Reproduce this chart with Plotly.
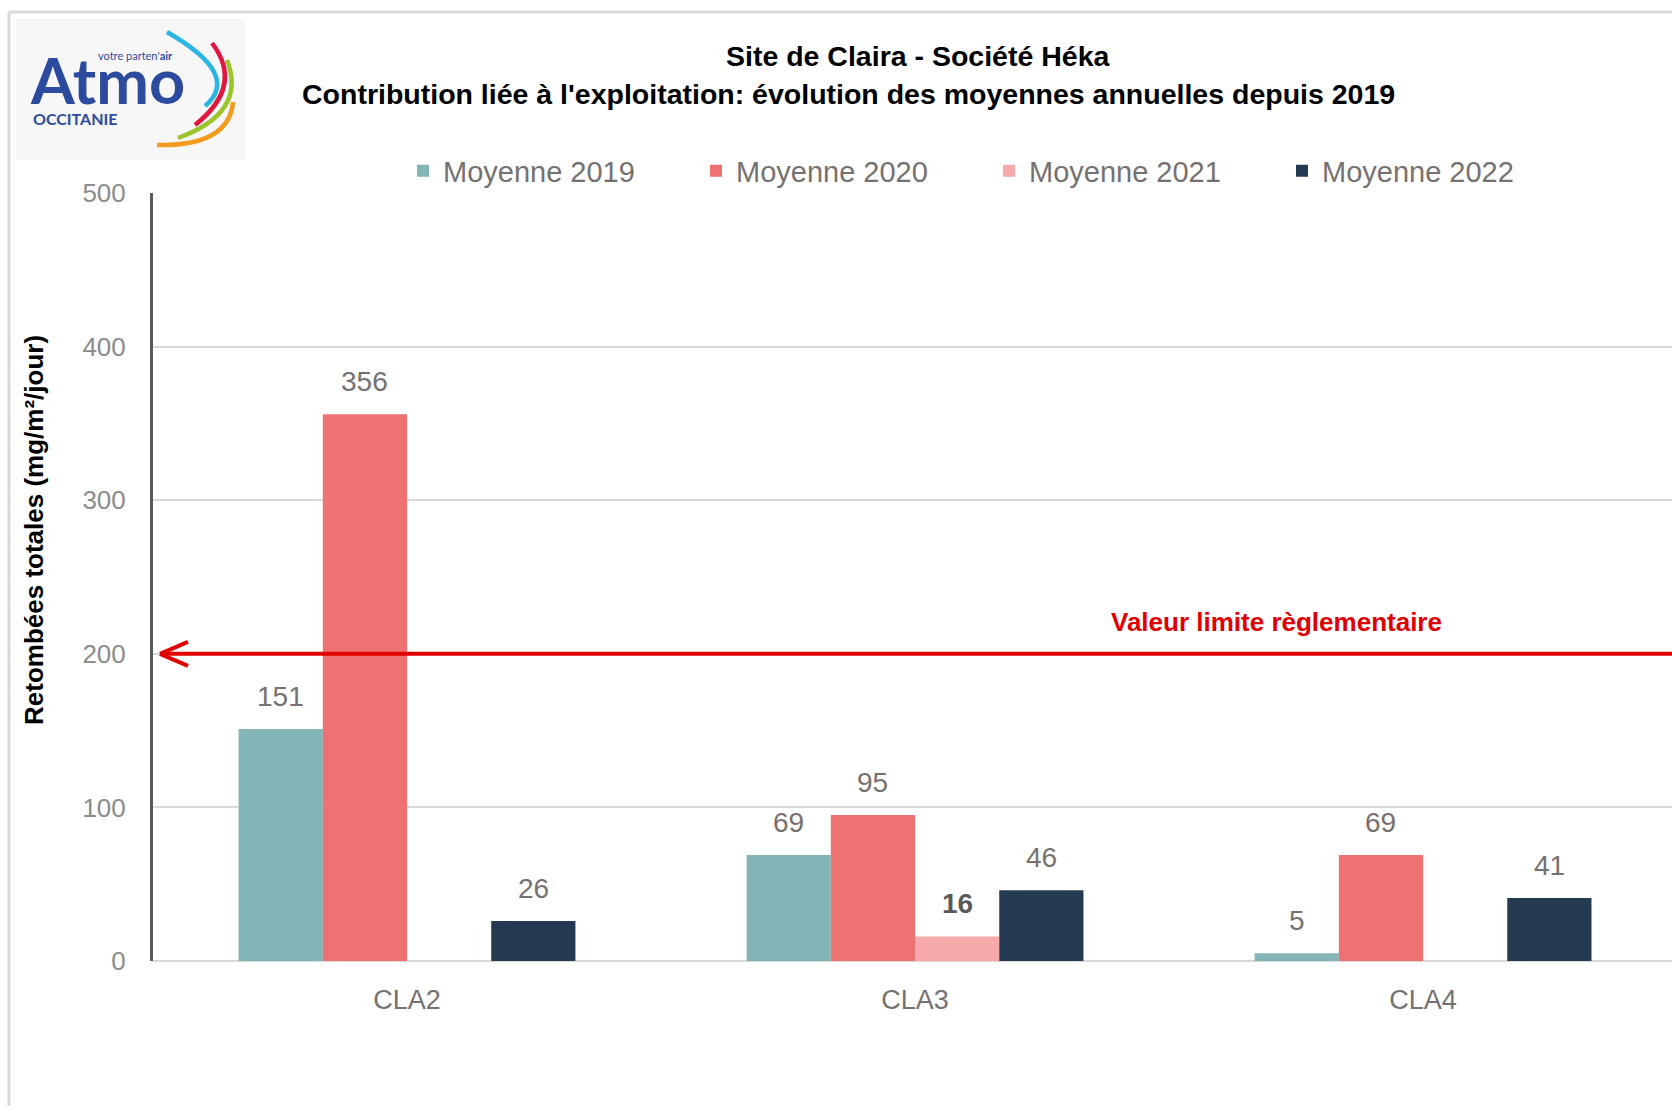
import plotly.graph_objects as go

categories = ["CLA2", "CLA3", "CLA4"]
series_names = ["Moyenne 2019", "Moyenne 2020", "Moyenne 2021", "Moyenne 2022"]
values_2019 = [151, 69, 5]
values_2020 = [356, 95, 69]
values_2021 = [None, 16, None]
values_2022 = [26, 46, 41]
series_values = [values_2019, values_2020, values_2021, values_2022]
colors = ["#83B5B6", "#EE7271", "#F5A9A8", "#243A52"]
limit_value = 200
y_ticks = [0, 100, 200, 300, 400, 500]
emphasized = {("Moyenne 2021", "CLA3")}

W, H = 1672, 1106
ML, MR, MT, MB = 153, 0, 193, 145
PW, PH = W - ML - MR, H - MT - MB


def px(x):
    return (x - ML) / PW


def py(y):
    return (H - MB - y) / PH


FONT = "Liberation Sans, Arial, sans-serif"
GRAY = "#767171"

fig = go.Figure()
bargap = 0.337
for name, vals, col in zip(series_names, series_values, colors):
    fig.add_trace(go.Bar(name=name, x=categories, y=vals, marker=dict(color=col, line=dict(width=0))))

bw = (1 - bargap) / len(series_names)
annotations = []
for i, (name, vals) in enumerate(zip(series_names, series_values)):
    for j, (cat, v) in enumerate(zip(categories, vals)):
        if v is None:
            continue
        bold = (name, cat) in emphasized
        annotations.append(dict(
            x=j + (i - 1.5) * bw, y=v, xref="x", yref="y",
            text=f"<b>{v}</b>" if bold else str(v), showarrow=False,
            xanchor="center", yanchor="middle", yshift=33,
            font=dict(family=FONT, size=28, color="#595959" if bold else GRAY)))


def text_at(x, y, text, size, color, angle=0, xanchor="center", family=FONT):
    annotations.append(dict(x=px(x), y=py(y), xref="paper", yref="paper", showarrow=False,
                            xanchor=xanchor, yanchor="middle", textangle=angle, text=text,
                            font=dict(family=family, size=size, color=color)))


text_at(918, 56, "<b>Site de Claira - Société Héka</b>", 28.5, "#000000")
text_at(848, 94, "<b>Contribution liée à l'exploitation: évolution des moyennes annuelles depuis 2019</b>", 28.5, "#000000")
text_at(34, 530, "<b>Retombées totales (mg/m²/jour)</b>", 26, "#000000", angle=-90)
text_at(1276, 622, "<b>Valeur limite règlementaire</b>", 26, "#E00000")

LOGO_BLUE = "#2D4B9E"
LOGO_FONT = "Lato, Open Sans, sans-serif"
text_at(28, 80, "<b>Atmo</b>", 63, LOGO_BLUE, xanchor="left", family=LOGO_FONT)
text_at(96, 55, "votre parten'<b>air</b>", 11, LOGO_BLUE, xanchor="left", family=LOGO_FONT)
text_at(31, 118, "<b>OCCITANIE</b>", 16, LOGO_BLUE, xanchor="left", family=LOGO_FONT)

shapes = []
shapes.append(dict(type="line", xref="paper", yref="paper", x0=px(9), x1=px(W), y0=py(12), y1=py(12),
                   line=dict(color="#D9D9D9", width=3)))
shapes.append(dict(type="line", xref="paper", yref="paper", x0=px(9), x1=px(9), y0=py(12), y1=py(H),
                   line=dict(color="#D9D9D9", width=3)))
shapes.append(dict(type="rect", xref="paper", yref="paper", x0=px(16), x1=px(245), y0=py(19), y1=py(160),
                   fillcolor="#F7F7F7", line=dict(width=0), layer="below"))


def arc(points, color):
    (sx, sy), (mx, my), (ex, ey) = points
    cx, cy = 2 * mx - (sx + ex) / 2, 2 * my - (sy + ey) / 2
    path = f"M {px(sx)},{py(sy)} Q {px(cx)},{py(cy)} {px(ex)},{py(ey)}"
    return dict(type="path", xref="paper", yref="paper", path=path, line=dict(color=color, width=4.5))


shapes.append(arc([(167, 32), (214, 72), (205, 106)], "#2BB5E5"))
shapes.append(arc([(212, 43), (224, 85), (195, 125)], "#E1173F"))
shapes.append(arc([(227, 60), (225, 106), (178, 138)], "#9CC52B"))
shapes.append(arc([(233, 102), (212, 135), (157, 145)], "#F29B1F"))

yl = H - MB - limit_value / 500 * PH
shapes.append(dict(type="line", xref="paper", yref="y", x0=px(161), x1=1, y0=limit_value, y1=limit_value,
                   line=dict(color="#E00000", width=4)))
shapes.append(dict(type="line", xref="paper", yref="paper", x0=px(160), y0=py(yl), x1=px(188), y1=py(yl - 12),
                   line=dict(color="#E00000", width=4)))
shapes.append(dict(type="line", xref="paper", yref="paper", x0=px(160), y0=py(yl), x1=px(188), y1=py(yl + 12),
                   line=dict(color="#E00000", width=4)))

fig.update_layout(
    width=W, height=H,
    margin=dict(l=ML, r=MR, t=MT, b=MB),
    paper_bgcolor="white", plot_bgcolor="white",
    barmode="group", bargap=bargap, bargroupgap=0,
    showlegend=True,
    legend=dict(orientation="h", x=px(403), xanchor="left", y=py(171), yanchor="middle",
                entrywidth=248, entrywidthmode="pixels",
                font=dict(family=FONT, size=29, color=GRAY), bgcolor="rgba(0,0,0,0)"),
    xaxis=dict(range=[-0.5, 2.49], showgrid=False, showline=False, ticks="",
               tickfont=dict(family=FONT, size=27, color=GRAY), ticklabelstandoff=20),
    yaxis=dict(range=[0, 500], tickvals=y_ticks, showgrid=True, gridcolor="#D9D9D9", gridwidth=2,
               zeroline=True, zerolinecolor="#D9D9D9", zerolinewidth=2,
               showline=True, linecolor="#595959", linewidth=3, ticks="",
               tickfont=dict(family=FONT, size=26, color="#8C8C8C"), ticklabelstandoff=19),
    annotations=annotations,
    shapes=shapes,
)

fig.write_html("out.html")
